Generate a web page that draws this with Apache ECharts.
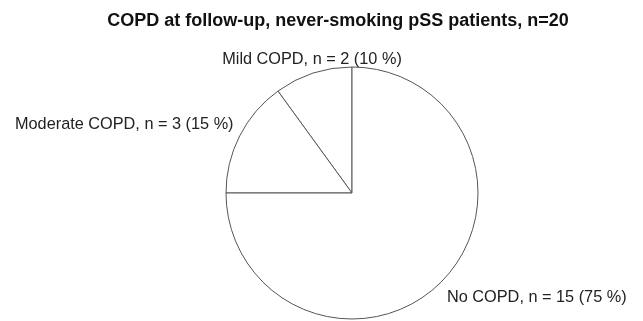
<!DOCTYPE html>
<html>
<head>
<meta charset="utf-8">
<script src="https://cdn.jsdelivr.net/npm/echarts@6/dist/echarts.min.js"></script>
<style>
  html, body { margin: 0; padding: 0; background: #fff; }
  #chart { width: 643px; height: 321px; }
</style>
</head>
<body>
<div id="chart"></div>
<script>
var categories = ['Mild COPD', 'Moderate COPD', 'No COPD']
var counts = [2, 3, 15]
var percents = [10, 15, 75]

// where each label sits (x, y, align)
var labelSpots = [
  [312, 60, 'center'],
  [15, 125, 'left'],
  [447, 298, 'left']
]

var chart = echarts.init(document.getElementById('chart'))
chart.setOption({
  animation: false,
  title: {
    text: 'COPD at follow-up, never-smoking pSS patients, n=20',
    left: 333,
    top: 7,
    textAlign: 'center',
    textStyle: {
      fontFamily: 'Liberation Sans',
      fontSize: 18,
      fontWeight: 'bold',
      color: '#111'
    }
  },
  series: [{
    type: 'pie',
    center: [352, 193],
    radius: 126,
    startAngle: 90,
    clockwise: false,
    itemStyle: {
      color: '#fff',
      borderColor: '#555',
      borderWidth: 1
    },
    emphasis: { disabled: true },
    label: {
      show: true,
      fontFamily: 'Liberation Sans',
      fontSize: 16.3,
      color: '#222',
      overflow: 'none',
      width: 300,
      formatter: function (p) {
        return p.name + ', n = ' + counts[p.dataIndex] + ' (' + percents[p.dataIndex] + ' %)'
      }
    },
    labelLine: { show: false },
    labelLayout: function (params) {
      var s = labelSpots[params.dataIndex]
      return {
        x: s[0],
        y: s[1],
        align: s[2],
        verticalAlign: 'middle'
      }
    },
    data: categories.map(function (name, i) {
      return { name: name, value: counts[i] }
    })
  }]
})
</script>
</body>
</html>
